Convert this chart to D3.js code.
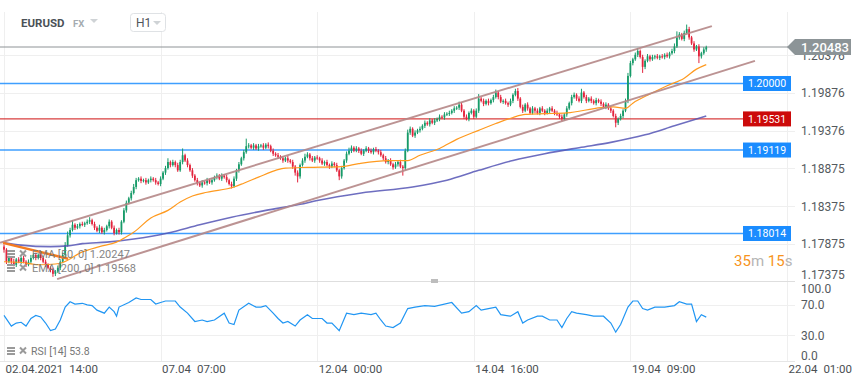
<!DOCTYPE html>
<html>
<head>
<meta charset="utf-8">
<script src="https://cdn.jsdelivr.net/npm/d3@7"></script>
<style>
  body { margin: 0; background: #fff; font-family: Roboto, "Noto Sans", sans-serif; }
</style>
</head>
<body>
<svg id="chart" width="859" height="385"></svg>
<script>
// EURUSD H1, prices in pips above 1.17000
const base = 1.17
const firstOpen = 84
const closes = [
  80,64,69,64,60,67,64,69,64,60,64,69,73,69,73,69,64,60,56,53,48,51,56,64,
  73,86,99,106,113,109,111,114,113,115,117,119,114,109,105,109,103,106,111,117,109,102,106,103,
  117,132,142,148,155,163,172,174,171,172,169,172,174,172,169,167,174,182,188,196,192,196,192,185,
  196,205,198,192,185,178,172,168,165,169,168,172,169,172,176,178,174,178,176,172,167,164,174,185,
  193,201,209,217,218,215,218,214,217,218,215,219,217,211,207,205,203,201,198,201,198,196,190,182,
  177,192,198,203,206,201,198,202,201,198,194,196,192,190,194,192,185,177,188,198,207,211,215,211,
  214,211,207,211,214,211,209,213,211,209,205,201,196,198,193,189,193,196,190,188,211,235,240,231,
  235,238,240,244,248,246,251,248,251,253,256,255,259,260,261,264,267,268,272,264,256,253,261,264,
  256,264,280,277,273,277,274,278,282,288,282,276,277,274,272,277,285,290,280,269,264,272,267,261,
  267,264,261,267,264,261,264,267,264,261,259,256,253,259,267,274,282,285,280,277,288,282,277,280,
  277,274,278,276,273,269,272,267,264,257,248,253,257,264,277,310,327,332,338,343,335,322,330,336,
  332,335,336,334,336,335,338,336,340,343,349,361,365,359,367,372,361,353,345,349,336,340,345,348
]
const wickHi = [
  3,2,3,2,4,2,3,2,3,2,3,4,2,3,2,3,2,3,2,2,3,2,3,2,
  3,4,5,3,6,2,3,2,3,2,3,4,2,3,2,4,2,3,2,3,2,3,2,3,
  2,3,3,2,3,4,3,2,3,2,3,2,3,2,3,2,3,2,3,5,2,3,2,3,
  3,9,2,3,2,3,2,3,2,3,2,3,2,3,2,3,2,3,2,3,2,3,3,2,
  3,2,3,10,3,2,3,2,3,2,3,2,3,2,3,2,3,2,3,2,3,2,3,2,
  3,2,3,4,3,2,3,2,3,2,3,2,3,2,3,2,3,2,3,2,3,4,3,2,
  3,2,3,2,3,2,3,2,3,2,3,2,3,2,3,2,3,2,3,2,3,4,3,2,
  3,2,3,2,3,2,3,2,3,2,3,2,3,2,3,2,3,2,4,3,2,3,2,3,
  2,3,6,2,3,2,3,2,3,4,2,3,2,3,2,3,2,3,4,2,3,2,3,2,
  3,2,3,2,3,2,3,2,3,2,3,2,3,2,3,2,3,3,2,3,5,2,3,2,
  3,2,3,2,3,2,3,2,3,2,3,2,3,2,3,4,3,2,3,4,2,3,2,3,
  2,3,2,3,2,3,2,3,2,3,4,8,3,2,3,6,3,2,3,2,3,2,3,2
]
const wickLo = [
  4,3,2,3,2,3,2,3,2,3,2,3,2,3,2,3,2,3,2,3,4,3,2,3,
  2,3,2,3,2,3,2,3,2,3,2,3,2,3,2,3,2,3,2,3,2,3,2,3,
  3,2,3,2,3,2,3,2,3,2,3,2,3,2,3,2,3,2,3,2,3,2,3,2,
  2,3,2,3,2,3,2,3,2,3,2,3,2,3,2,3,2,3,2,3,2,3,2,3,
  3,2,3,2,3,2,3,2,3,2,3,2,3,2,3,2,3,2,3,2,3,2,3,4,
  8,3,2,3,2,3,2,3,2,3,2,3,2,3,2,3,2,5,3,2,3,2,3,2,
  2,3,2,3,2,3,2,3,2,3,2,3,2,3,2,3,2,3,2,10,3,2,3,2,
  3,2,3,2,3,2,3,2,3,2,3,2,3,2,3,2,3,2,3,2,3,2,3,2,
  3,2,3,2,3,2,3,2,3,2,3,2,3,2,3,2,3,2,3,2,3,2,3,2,
  2,3,2,3,2,3,2,3,2,3,2,3,3,2,3,2,3,2,3,2,3,2,3,2,
  3,2,3,2,3,2,3,2,3,2,6,3,2,3,2,3,2,3,2,3,2,8,3,2,
  3,2,3,2,3,2,3,2,3,2,3,2,3,2,3,2,3,2,3,2,9,3,2,3
]

// indicator readings: [bar, pips]
const ema50 = [[0,64],[7,63],[15,60],[21,61],[24,63],[32,77],[39,84],[46,90],[50,97],[53,103],[60,122],[67,132],[72,143],[77,151],[83,156],[94,163],[98,168],[104,176],[111,185],[115,188],[124,189],[138,190],[145,194],[157,198],[165,198],[170,205],[178,214],[185,226],[194,238],[201,247],[208,255],[213,259],[221,260],[230,261],[244,268],[249,269],[254,267],[257,274],[264,286],[271,297],[278,307],[283,319],[287,325]]
const ema200 = [[0,89],[7,86],[19,84],[26,85],[32,88],[42,90],[53,94],[67,102],[80,113],[93,123],[107,132],[121,140],[128,145],[146,155],[167,163],[181,172],[194,185],[208,198],[221,207],[235,215],[248,222],[262,232],[274,244],[287,257]]
const rsi = [[0,56],[3,42],[5,46],[7,47],[9,42],[11,52],[13,56],[15,54],[17,46],[19,36],[21,38],[23,50],[25,67],[27,74],[29,71],[32,72],[34,70],[36,69],[38,63],[41,59],[43,67],[45,61],[46,55],[47,67],[51,73],[54,79],[56,77],[60,77],[62,71],[64,73],[66,75],[70,75],[72,67],[75,59],[78,48],[81,50],[83,48],[86,50],[90,59],[92,46],[94,44],[96,63],[100,72],[103,67],[105,67],[107,69],[110,59],[112,52],[114,46],[116,48],[119,42],[121,50],[124,57],[126,52],[130,52],[132,46],[134,46],[137,36],[140,59],[143,57],[146,59],[150,57],[152,59],[154,50],[156,42],[159,40],[162,46],[165,65],[168,67],[172,69],[176,68],[183,73],[187,59],[190,61],[193,69],[195,63],[198,65],[201,67],[203,57],[207,55],[210,61],[212,46],[214,50],[218,55],[220,55],[223,50],[226,50],[228,40],[230,52],[232,61],[234,59],[238,57],[241,55],[245,55],[248,46],[250,34],[252,44],[255,67],[257,75],[259,75],[261,65],[263,63],[266,67],[270,67],[274,69],[276,74],[279,71],[281,71],[283,48],[285,57],[287,53.8]]

// drawn objects: [bar, pips]
const channelUpper = [[-1.6,89],[289.3,376]]
const channelLower = [[21.7,41],[306.9,330]]
const trendLine = [[-0.4,89],[26.2,68]]

const levelPrices = [1.20000, 1.19531, 1.19119, 1.18014]
const lastPrice = 1.20483
const emaLast = ["1.20247", "1.19568"]
const rsiLast = "53.8"

const priceTicks = [1.20376, 1.19876, 1.19376, 1.18875, 1.18375, 1.17875, 1.17375]
const rsiTicks = [100, 70, 30, 0]
const timeBars = [0, 64, 128, 192, 256, 320]
const timeDates = ["02.04.2021", "07.04", "12.04", "14.04", "19.04", "22.04"]
const timeHours = ["14:00", "07:00", "00:00", "16:00", "09:00", "01:00"]

const svg = d3.select('#chart')
const plotRight = 795
const mainTop = 10, mainBottom = 281

const x = d3.scaleLinear().domain([0, 64]).range([4, 160.6])
const y = d3.scaleLinear().domain([1.17385, 1.20973]).range([mainBottom, mainTop])
const yr = d3.scaleLinear().domain([0, 100]).range([358, 282])
const px = v => base + v / 10000

// grid
let grid = svg.append('g').attr('stroke', '#efefef').attr('stroke-width', 1)
grid.selectAll('.vg').data(timeBars).enter().append('line')
  .attr('x1', d => Math.round(x(d)) + 0.5).attr('x2', d => Math.round(x(d)) + 0.5)
  .attr('y1', 12).attr('y2', 361)
grid.selectAll('.hg').data(priceTicks.slice(0, -1)).enter().append('line')
  .attr('x1', 0).attr('x2', plotRight)
  .attr('y1', d => Math.round(y(d)) + 0.5).attr('y2', d => Math.round(y(d)) + 0.5)
grid.selectAll('.rg').data([70, 30]).enter().append('line')
  .attr('x1', 0).attr('x2', plotRight)
  .attr('y1', d => Math.round(yr(d)) + 0.5).attr('y2', d => Math.round(yr(d)) + 0.5)

// panel borders
svg.append('line').attr('x1', 0).attr('x2', plotRight).attr('y1', 281.5).attr('y2', 281.5).attr('stroke', '#dedede')
svg.append('line').attr('x1', 0).attr('x2', plotRight).attr('y1', 361.5).attr('y2', 361.5).attr('stroke', '#e6e6e6')
svg.append('rect').attr('x', 431).attr('y', 279).attr('width', 7).attr('height', 4).attr('fill', '#bdbdbd')

svg.append('clipPath').attr('id', 'mainClip').append('rect')
  .attr('x', 0).attr('y', mainTop).attr('width', plotRight).attr('height', mainBottom - mainTop)
let main = svg.append('g').attr('clip-path', 'url(#mainClip)')

// horizontal levels
let levelColor = ['#1e8fff', '#d21f1f', '#1e8fff', '#1e8fff']
main.selectAll('.lvl').data(levelPrices).enter().append('line')
  .attr('x1', 0).attr('x2', 743)
  .attr('y1', d => y(d)).attr('y2', d => y(d))
  .attr('stroke', (d, k) => levelColor[k]).attr('stroke-width', 1.4).attr('opacity', 0.85)
main.append('line').attr('x1', 0).attr('x2', 788)
  .attr('y1', y(lastPrice)).attr('y2', y(lastPrice))
  .attr('stroke', '#8e9396').attr('stroke-width', 1)

// candles
let candles = closes.map((c, i) => {
  let o = i == 0 ? firstOpen : closes[i - 1]
  return { i, o, c, h: Math.max(o, c) + wickHi[i], l: Math.min(o, c) - wickLo[i] }
})
let candleColor = d => d.c >= d.o ? '#179b69' : '#e3243d'
let cg = main.append('g')
cg.selectAll('.wick').data(candles).enter().append('line')
  .attr('x1', d => x(d.i)).attr('x2', d => x(d.i))
  .attr('y1', d => y(px(d.h))).attr('y2', d => y(px(d.l)))
  .attr('stroke', candleColor).attr('stroke-width', 1)
cg.selectAll('.body').data(candles).enter().append('rect')
  .attr('x', d => x(d.i) - 0.9).attr('width', 1.8)
  .attr('y', d => y(px(Math.max(d.o, d.c))))
  .attr('height', d => Math.max(1, y(px(Math.min(d.o, d.c))) - y(px(Math.max(d.o, d.c)))))
  .attr('fill', candleColor)

// indicator lines
let line = d3.line().x(d => x(d[0])).y(d => y(px(d[1]))).curve(d3.curveMonotoneX)
main.append('path').attr('d', line(ema200)).attr('fill', 'none')
  .attr('stroke', '#5555b5').attr('stroke-width', 1.6).attr('opacity', 0.85)
main.append('path').attr('d', line(ema50)).attr('fill', 'none')
  .attr('stroke', '#ff9a1f').attr('stroke-width', 1.2)

// drawings
let straight = d3.line().x(d => x(d[0])).y(d => y(px(d[1])))
;[channelUpper, channelLower].forEach(ch => {
  main.append('path').attr('d', straight(ch)).attr('stroke', '#b58787')
    .attr('stroke-width', 2).attr('opacity', 0.9).attr('fill', 'none')
})
main.append('path').attr('d', straight(trendLine)).attr('stroke', '#f47b20')
  .attr('stroke-width', 2.5).attr('fill', 'none')

// level tags
svg.selectAll('.tag').data(levelPrices).enter().append('rect')
  .attr('x', 743).attr('y', d => y(d) - 7.5).attr('width', 48).attr('height', 15)
  .attr('fill', (d, k) => k == 1 ? '#cc0a0a' : '#1a8cff')
svg.selectAll('.tagt').data(levelPrices).enter().append('text')
  .attr('x', 767).attr('y', d => y(d) + 3.8).attr('text-anchor', 'middle')
  .attr('fill', '#fff').attr('font-size', 10.5).text(d => d.toFixed(5))

// price axis
svg.selectAll('.pt').data(priceTicks).enter().append('text')
  .attr('x', 801).attr('y', d => Math.min(y(d), 274) + 4.5)
  .attr('fill', '#555a5e').attr('font-size', 12).text(d => d.toFixed(5))
let ly = y(lastPrice)
svg.append('path')
  .attr('d', `M787,${ly} L795,${ly - 8} L851,${ly - 8} L851,${ly + 8} L795,${ly + 8} Z`)
  .attr('fill', '#8c9497')
svg.append('text').attr('x', 801).attr('y', ly + 4.5).attr('fill', '#fff')
  .attr('font-size', 13).attr('font-weight', 500).text(lastPrice.toFixed(5))

// rsi
svg.append('clipPath').attr('id', 'rsiClip').append('rect')
  .attr('x', 0).attr('y', 282).attr('width', plotRight).attr('height', 79)
let rsiLine = d3.line().x(d => x(d[0])).y(d => yr(d[1]))
svg.append('path').attr('clip-path', 'url(#rsiClip)').attr('d', rsiLine(rsi))
  .attr('fill', 'none').attr('stroke', '#2196f3').attr('stroke-width', 1.2)
svg.selectAll('.rt').data(rsiTicks).enter().append('text')
  .attr('x', 801).attr('y', d => Math.max(288, Math.min(yr(d), 355)) + 4.5)
  .attr('fill', '#555a5e').attr('font-size', 12).text(d => d.toFixed(1))

// time axis
let tl = svg.selectAll('.tl').data(timeBars).enter().append('text')
  .attr('x', d => x(d) + 1.5).attr('y', 372.5)
  .attr('fill', '#4a4f53').attr('font-size', 11.5)
tl.append('tspan').text((d, k) => timeDates[k])
tl.append('tspan').attr('dx', 6).text((d, k) => timeHours[k])

// legend icons
let legendIcon = (gx, gy) => {
  let g = svg.append('g').attr('transform', `translate(${gx},${gy})`).attr('fill', '#9a9a9a')
  g.append('rect').attr('x', 0).attr('y', -4).attr('width', 8).attr('height', 2)
  g.append('rect').attr('x', 0).attr('y', -1).attr('width', 8).attr('height', 2)
  g.append('rect').attr('x', 0).attr('y', 2).attr('width', 8).attr('height', 2)
  g.append('path').attr('d', 'M13,-3.5 L19,2.5 M19,-3.5 L13,2.5')
    .attr('stroke', '#9a9a9a').attr('stroke-width', 2)
}
let legendRows = [['EMA [50, 0]', emaLast[0], 254], ['EMA [200, 0]', emaLast[1], 268]]
legendRows.forEach(r => {
  legendIcon(7, r[2])
  svg.append('text').attr('x', 32).attr('y', r[2] + 4).attr('fill', '#777')
    .attr('font-size', 11).attr('opacity', 0.9).text(r[0] + '  ' + r[1])
})
legendIcon(7, 351)
svg.append('text').attr('x', 31).attr('y', 355).attr('fill', '#777').attr('font-size', 10.5)
  .text('RSI  [14]  ' + rsiLast)

// countdown
let cd = svg.append('text').attr('x', 734).attr('y', 266).attr('font-size', 15)
cd.append('tspan').attr('fill', '#f7941d').text('35')
cd.append('tspan').attr('fill', '#b5b5b5').text('m ')
cd.append('tspan').attr('fill', '#f7941d').text('15')
cd.append('tspan').attr('fill', '#b5b5b5').text('s')

// header
svg.append('text').attr('x', 21).attr('y', 27).attr('fill', '#4b5157')
  .attr('font-size', 11.5).attr('font-weight', 700).text('EURUSD')
svg.append('text').attr('x', 73).attr('y', 27).attr('fill', '#a5abb0')
  .attr('font-size', 9.5).attr('font-weight', 700).text('FX')
svg.append('path').attr('d', 'M90,19 L98,19 L94,23 Z').attr('fill', '#cfd3d6')
svg.append('rect').attr('x', 130.5).attr('y', 13.5).attr('width', 35).attr('height', 18)
  .attr('rx', 3).attr('fill', '#fff').attr('stroke', '#dfe2e5')
svg.append('text').attr('x', 136).attr('y', 27).attr('fill', '#50565b').attr('font-size', 12).text('H1')
svg.append('path').attr('d', 'M153,21 L161,21 L157,25 Z').attr('fill', '#cfd3d6')
</script>
</body>
</html>
